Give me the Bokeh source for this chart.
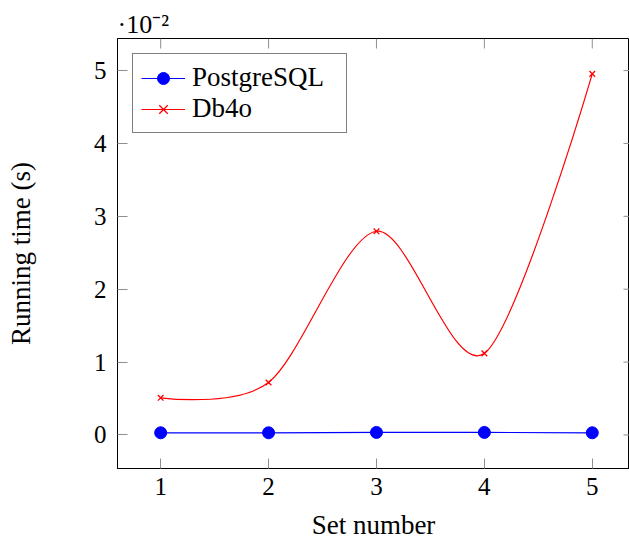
from bokeh.plotting import figure
from bokeh.models import Range1d, Legend, LegendItem
from bokeh.embed import file_html
from bokeh.resources import INLINE

# ---- data (running time, in units of 10^-2 s) ----
set_numbers = [1, 2, 3, 4, 5]
postgres = [0.03, 0.03, 0.035, 0.035, 0.03]
db4o = [0.51, 0.72, 2.795, 1.12, 4.955]
x_ticks = [1, 2, 3, 4, 5]
y_ticks = [0, 1, 2, 3, 4, 5]
multiplier_text = "·10⁻²"

FONT = "Liberation Serif"
W, H = 629, 542
x_start, x_end = 0.6, 5.345
y_start, y_end = -0.46, 5.44
ML, MT, MB, MR = 117, 38, 74, 0
TICK_GREY = "#8f8f8f"

p = figure(width=W, height=H, output_backend="svg", toolbar_location=None,
           x_range=Range1d(x_start, x_end), y_range=Range1d(y_start, y_end),
           min_border_left=ML, min_border_top=MT, min_border_bottom=MB,
           min_border_right=MR)
p.background_fill_color = "white"
p.border_fill_color = "white"
p.grid.visible = False
p.outline_line_color = "black"
p.outline_line_width = 1

# multiplier shown as the (left aligned) title just above the frame
p.title.text = multiplier_text
p.title.align = "left"
p.title.offset = 0
p.title.standoff = 0
p.title.text_font = FONT
p.title.text_font_size = "26px"
p.title.text_font_style = "normal"
p.title.text_color = "black"

for ax, ticks in ((p.xaxis, x_ticks), (p.yaxis, y_ticks)):
    ax.ticker = ticks
    ax.major_tick_in = 10
    ax.major_tick_out = 0
    ax.minor_tick_line_color = None
    ax.major_tick_line_color = TICK_GREY
    ax.major_tick_line_width = 1
    ax.axis_line_color = "black"
    ax.axis_line_width = 1
    ax.major_label_text_font = FONT
    ax.major_label_text_font_size = "25px"
    ax.major_label_text_color = "black"
    ax.axis_label_text_font = FONT
    ax.axis_label_text_font_size = "27px"
    ax.axis_label_text_font_style = "normal"
    ax.axis_label_text_color = "black"

p.xaxis.axis_label = "Set number"
p.yaxis.axis_label = "Running time (s)"
p.xaxis.major_label_standoff = 9
p.xaxis.axis_label_standoff = 12
p.yaxis.major_label_standoff = 11
p.yaxis.axis_label_standoff = 55

# mirrored ticks on top and right (frame pixel scale derived from ranges)
frame_w = W - ML - MR
frame_h = H - MT - MB
px_x = frame_w / (x_end - x_start)
px_y = frame_h / (y_end - y_start)
p.segment(x0=x_ticks, x1=x_ticks, y0=[y_end - 10 / px_y] * len(x_ticks),
          y1=[y_end] * len(x_ticks), line_color=TICK_GREY, line_width=1)
p.segment(x0=[x_end - 6 / px_x] * len(y_ticks), x1=[x_end] * len(y_ticks),
          y0=y_ticks, y1=y_ticks, line_color=TICK_GREY, line_width=1)

# PostgreSQL: straight line with filled circles
pg_line = p.line(set_numbers, postgres, line_color="blue", line_width=1.2)
pg_mark = p.scatter(set_numbers, postgres, marker="circle", size=12,
                    fill_color="blue", line_color="blue")

# Db4o: smooth curve (cubic Bezier through the data points)
def smooth_segments(xs, ys, s=0.15):
    n = len(xs)
    seg = dict(x0=[], y0=[], x1=[], y1=[], cx0=[], cy0=[], cx1=[], cy1=[])
    for i in range(n - 1):
        if i == 0:
            c0 = (xs[i], ys[i])
        else:
            c0 = (xs[i] + s * (xs[i + 1] - xs[i - 1]), ys[i] + s * (ys[i + 1] - ys[i - 1]))
        if i + 1 == n - 1:
            c1 = (xs[i + 1], ys[i + 1])
        else:
            c1 = (xs[i + 1] - s * (xs[i + 2] - xs[i]), ys[i + 1] - s * (ys[i + 2] - ys[i]))
        seg["x0"].append(xs[i]); seg["y0"].append(ys[i])
        seg["x1"].append(xs[i + 1]); seg["y1"].append(ys[i + 1])
        seg["cx0"].append(c0[0]); seg["cy0"].append(c0[1])
        seg["cx1"].append(c1[0]); seg["cy1"].append(c1[1])
    return seg

db_curve = p.bezier(**smooth_segments(set_numbers, db4o), line_color="red", line_width=1.2)
db_mark = p.scatter(set_numbers, db4o, marker="x", size=8, line_color="red", line_width=1.3)

legend = Legend(items=[LegendItem(label="PostgreSQL", renderers=[pg_line, pg_mark]),
                       LegendItem(label="Db4o", renderers=[db_curve, db_mark])],
                location="top_left")
legend.margin = 15
legend.padding = 8
legend.spacing = 0
legend.glyph_width = 44
legend.glyph_height = 30
legend.label_height = 30
legend.label_width = 146
legend.label_standoff = 7
legend.label_text_font = FONT
legend.label_text_font_size = "27px"
legend.label_text_color = "black"
legend.border_line_color = "black"
legend.border_line_width = 1
legend.background_fill_color = "white"
legend.background_fill_alpha = 1
p.add_layout(legend)

open("out.html", "w").write(file_html(p, INLINE))
